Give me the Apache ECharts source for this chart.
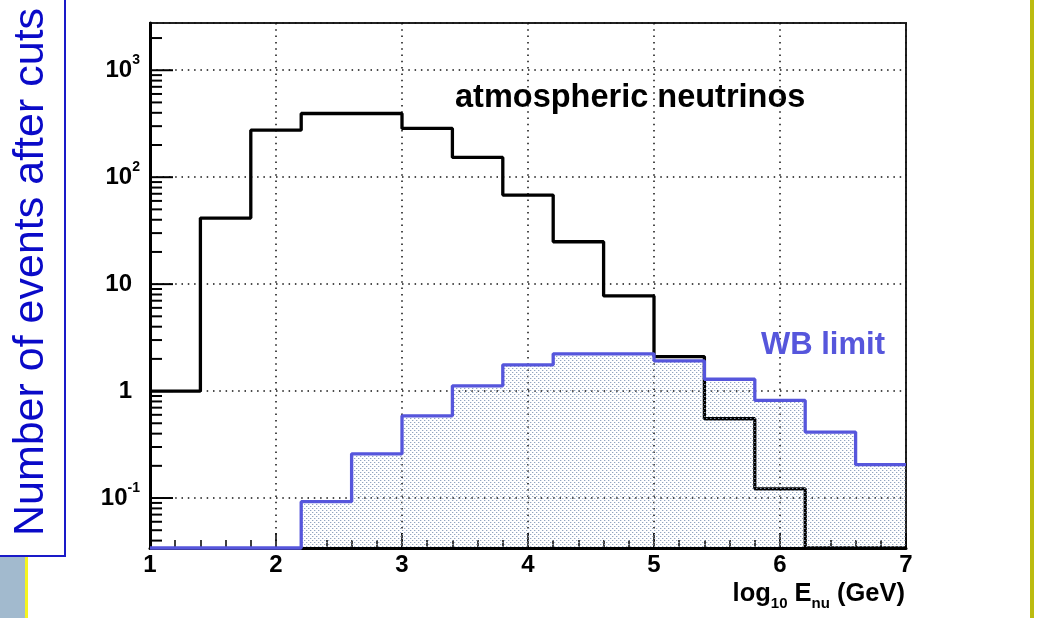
<!DOCTYPE html>
<html>
<head>
<meta charset="utf-8">
<script src="https://cdn.jsdelivr.net/npm/echarts@6/dist/echarts.min.js"></script>
<style>
  html, body { margin: 0; padding: 0; background: #fff; }
  #chart { width: 1039px; height: 618px; }
</style>
</head>
<body>
<div id="chart"></div>
<script>
// Histogram bin edges in log10(E_nu / GeV)
const binEdges = [1.0, 1.4, 1.8, 2.2, 2.6, 3.0, 3.4, 3.8, 4.2, 4.6, 5.0, 5.4, 5.8, 6.2, 6.6, 7.0];
// Events per bin after cuts
const atmosphericCounts = [1.0, 41.5, 275, 394, 394, 286, 153, 68, 24.9, 7.76, 2.10, 0.551, 0.122, 0, 0];
const wbLimitCounts = [0, 0, 0, 0.0925, 0.259, 0.587, 1.12, 1.76, 2.23, 2.23, 1.92, 1.29, 0.817, 0.414, 0.205];
// Axis ticks
const xTickLabels = ['1', '2', '3', '4', '5', '6', '7'];
const yMajorDecades = [-1, 0, 1, 2, 3];
const yMinorDecades = [-2, -1, 0, 1, 2, 3];
const yMinorMultipliers = [2, 3, 4, 5, 6, 7, 8, 9];

const X_MIN = 1, X_MAX = 7;
const Y_MIN = 0.0341, Y_MAX = 2765;

const BLUE = '#5656dc';
const FONT = 'Liberation Sans, Arial, sans-serif';

// Empty bins sit on the floor of the log axis
function stepData(counts) {
  const pts = counts.map((v, i) => [binEdges[i], v > 0 ? v : Y_MIN]);
  const last = counts[counts.length - 1];
  pts.push([binEdges[binEdges.length - 1], last > 0 ? last : Y_MIN]);
  return pts;
}

// Y tick marks (log minor ticks at 2..9 x 10^n)
const yTicks = [];
yMajorDecades.forEach(d => yTicks.push([Math.pow(10, d), 23]));
yMinorDecades.forEach(d => yMinorMultipliers.forEach(m => {
  const v = m * Math.pow(10, d);
  if (v > Y_MIN && v < Y_MAX) yTicks.push([v, 12]);
}));

// Dotted fill pattern for the WB limit histogram
function makePattern() {
  const c = document.createElement('canvas');
  c.width = 4; c.height = 4;
  const g = c.getContext('2d');
  g.fillStyle = 'rgba(135,155,185,0.9)';
  g.fillRect(0, 0, 1, 1);
  g.fillRect(2, 2, 1, 1);
  g.fillStyle = 'rgba(165,180,205,0.4)';
  g.fillRect(1, 0, 1, 1);
  g.fillRect(3, 2, 1, 1);
  return c;
}

const chart = echarts.init(document.getElementById('chart'), null, { renderer: 'canvas' });

const gridDots = { color: '#111', width: 1.5, type: [1.5, 4.8] };

const option = {
  animation: false,
  backgroundColor: '#fff',
  grid: {
    left: 150, right: 133, top: 23, bottom: 70,
    show: true, borderColor: '#222', borderWidth: 2, backgroundColor: 'transparent'
  },
  xAxis: {
    type: 'value', min: X_MIN, max: X_MAX, interval: 1,
    axisLine: { show: true, lineStyle: { color: '#000', width: 3 } },
    axisTick: { show: true, inside: true, length: 15, lineStyle: { color: '#000', width: 1.5 } },
    minorTick: { show: true, splitNumber: 5, length: 8, lineStyle: { color: '#000', width: 1.5 } },
    axisLabel: {
      margin: 5,
      color: '#000', fontFamily: FONT, fontWeight: 'bold', fontSize: 24,
      formatter: v => xTickLabels[Math.round(v) - X_MIN] || ''
    },
    splitLine: { show: true, lineStyle: gridDots }
  },
  yAxis: {
    type: 'log', logBase: 10, min: Y_MIN, max: Y_MAX,
    axisLine: { show: true, lineStyle: { color: '#000', width: 3 } },
    axisTick: { show: false },
    axisLabel: {
      margin: 10,
      color: '#000', fontFamily: FONT, fontWeight: 'bold', fontSize: 24,
      lineHeight: 34,
      formatter: function (v) {
        const e = Math.log10(v);
        const r = Math.round(e);
        if (Math.abs(e - r) > 1e-6) return '';
        if (r === 0) return '1{p|}';
        if (r === 1) return '10{p|}';
        return '10{s|' + r + '}';
      },
      rich: {
        s: { fontSize: 14, lineHeight: 14, verticalAlign: 'top', fontWeight: 'bold', color: '#000', fontFamily: FONT },
        p: { width: 8 }
      }
    },
    splitLine: { show: true, lineStyle: gridDots }
  },
  series: [
    {
      name: 'ticks',
      type: 'custom',
      z: 6,
      silent: true,
      clip: false,
      data: yTicks,
      renderItem: function (params, api) {
        const p = api.coord([X_MIN, api.value(0)]);
        return {
          type: 'line',
          shape: { x1: p[0], y1: p[1], x2: p[0] + api.value(1), y2: p[1] },
          style: { stroke: '#000', lineWidth: 2 }
        };
      }
    },
    {
      name: 'atmospheric neutrinos',
      type: 'line',
      step: 'end',
      z: 3,
      clip: false,
      symbol: 'none',
      data: stepData(atmosphericCounts),
      lineStyle: { color: '#000', width: 3.3 }
    },
    {
      name: 'WB limit',
      type: 'line',
      step: 'end',
      z: 4,
      clip: false,
      symbol: 'none',
      data: stepData(wbLimitCounts),
      lineStyle: { color: BLUE, width: 3.3 },
      areaStyle: { origin: 'start', color: { image: makePattern(), repeat: 'repeat' }, opacity: 1 }
    }
  ],
  graphic: [
    { type: 'rect', z: 10, shape: { x: -2, y: -2, width: 67, height: 558 },
      style: { fill: '#fff', stroke: '#1a1ac8', lineWidth: 2 } },
    { type: 'text', z: 11, x: 31, y: 272, rotation: Math.PI / 2,
      style: { text: 'Number of events after cuts', fill: '#0a0ac8', fontSize: 43,
               fontFamily: FONT, align: 'center', verticalAlign: 'middle' } },
    { type: 'rect', z: 10, shape: { x: 0, y: 557, width: 25, height: 61 }, style: { fill: '#a2bace' } },
    { type: 'rect', z: 10, shape: { x: 25, y: 557, width: 3, height: 61 }, style: { fill: '#f5f520' } },
    { type: 'rect', z: 10, shape: { x: 1030, y: 0, width: 4, height: 618 }, style: { fill: '#bcbb10' } },
    { type: 'text', z: 11, x: 455, y: 98,
      style: { text: 'atmospheric neutrinos', fill: '#000', fontSize: 32.5, fontWeight: 'bold',
               fontFamily: FONT, align: 'left', verticalAlign: 'middle' } },
    { type: 'text', z: 11, x: 761, y: 345,
      style: { text: 'WB limit', fill: BLUE, fontSize: 31, fontWeight: 'bold',
               fontFamily: FONT, align: 'left', verticalAlign: 'middle' } },
    { type: 'text', z: 11, x: 905, y: 594,
      style: { text: 'log{sub|10} E{sub|nu} (GeV)', fill: '#000', fontSize: 25.5, fontWeight: 'bold',
               lineHeight: 34, fontFamily: FONT, align: 'right', verticalAlign: 'middle',
               rich: { sub: { fontSize: 15, lineHeight: 15, verticalAlign: 'bottom', fontWeight: 'bold',
                              fill: '#000', fontFamily: FONT } } } }
  ]
};

chart.setOption(option);
</script>
</body>
</html>
